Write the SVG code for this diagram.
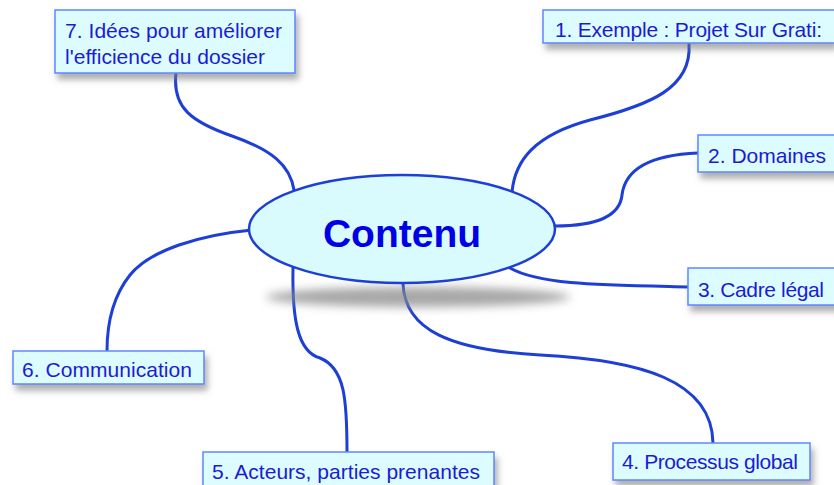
<svg xmlns="http://www.w3.org/2000/svg" width="834" height="485" viewBox="0 0 834 485">
<defs>
<filter id="sh" x="-10%" y="-30%" width="125%" height="180%">
<feDropShadow dx="3" dy="6" stdDeviation="3" flood-color="#7a7a7a" flood-opacity="0.6"/>
</filter>
<filter id="blur" x="-20%" y="-200%" width="140%" height="500%">
<feGaussianBlur stdDeviation="5"/>
</filter>
<style>
.box{fill:#dcfcff;stroke:#5f86ff;stroke-width:1.5;filter:url(#sh)}
.lbl{font-family:"Liberation Sans",Arial,sans-serif;font-size:21px;fill:#1b1bd6}
.con{fill:none;stroke:#1d3fd6;stroke-width:3;stroke-linecap:round}
</style>
</defs>
<rect width="834" height="485" fill="#ffffff"/>
<g id="connectors">
<path class="con" d="M176,73 C172,108 192,122 232,136 C272,150 290,165 294,190"/>
<path class="con" d="M689,44 C692,88 650,105 590,120 C535,135 515,160 512,192"/>
<path class="con" d="M555,226 C600,226 620,215 622,195 C625,170 650,155 698,153"/>
<path class="con" d="M510,268 C540,285 600,285 688,287"/>
<path class="con" d="M403,284 C405,330 450,350 540,355 C640,360 712,380 713,443"/>
<path class="con" d="M293,268 C292,320 298,352 320,358 C345,368 347,400 347,452"/>
<path class="con" d="M252,230 C200,235 150,250 130,275 C110,300 107,330 107,351"/>
</g>
<g id="center">
<ellipse cx="418" cy="297" rx="152" ry="10" fill="#8a8a8a" opacity="0.75" filter="url(#blur)"/>
<ellipse cx="402" cy="229" rx="153" ry="54" fill="#dafbfd" stroke="#1d3fd6" stroke-width="2.5"/>
<text x="402" y="247" text-anchor="middle" font-family="'Liberation Sans',Arial,sans-serif" font-weight="bold" font-size="39" fill="#0000e6">Contenu</text>
</g>
<g id="n7">
<rect class="box" x="55" y="10" width="240" height="63"/>
<text class="lbl" x="65" y="38" textLength="217">7. Idées pour améliorer</text>
<text class="lbl" x="65" y="64" textLength="200">l'efficience du dossier</text>
</g>
<g id="n1">
<rect class="box" x="543" y="10" width="292" height="33"/>
<text class="lbl" x="555" y="37" textLength="267">1. Exemple : Projet Sur Grati:</text>
</g>
<g id="n2">
<rect class="box" x="698" y="135" width="140" height="37"/>
<text class="lbl" x="708" y="163" textLength="118">2. Domaines</text>
</g>
<g id="n3">
<rect class="box" x="688" y="268" width="150" height="37"/>
<text class="lbl" x="698" y="297" textLength="126">3. Cadre légal</text>
</g>
<g id="n4">
<rect class="box" x="613" y="443" width="197" height="37"/>
<text class="lbl" x="622" y="469" textLength="176">4. Processus global</text>
</g>
<g id="n5">
<rect class="box" x="203" y="452" width="291" height="40"/>
<text class="lbl" x="212" y="479" textLength="268">5. Acteurs, parties prenantes</text>
</g>
<g id="n6">
<rect class="box" x="13" y="351" width="191" height="33"/>
<text class="lbl" x="22" y="377" textLength="170">6. Communication</text>
</g>
</svg>
